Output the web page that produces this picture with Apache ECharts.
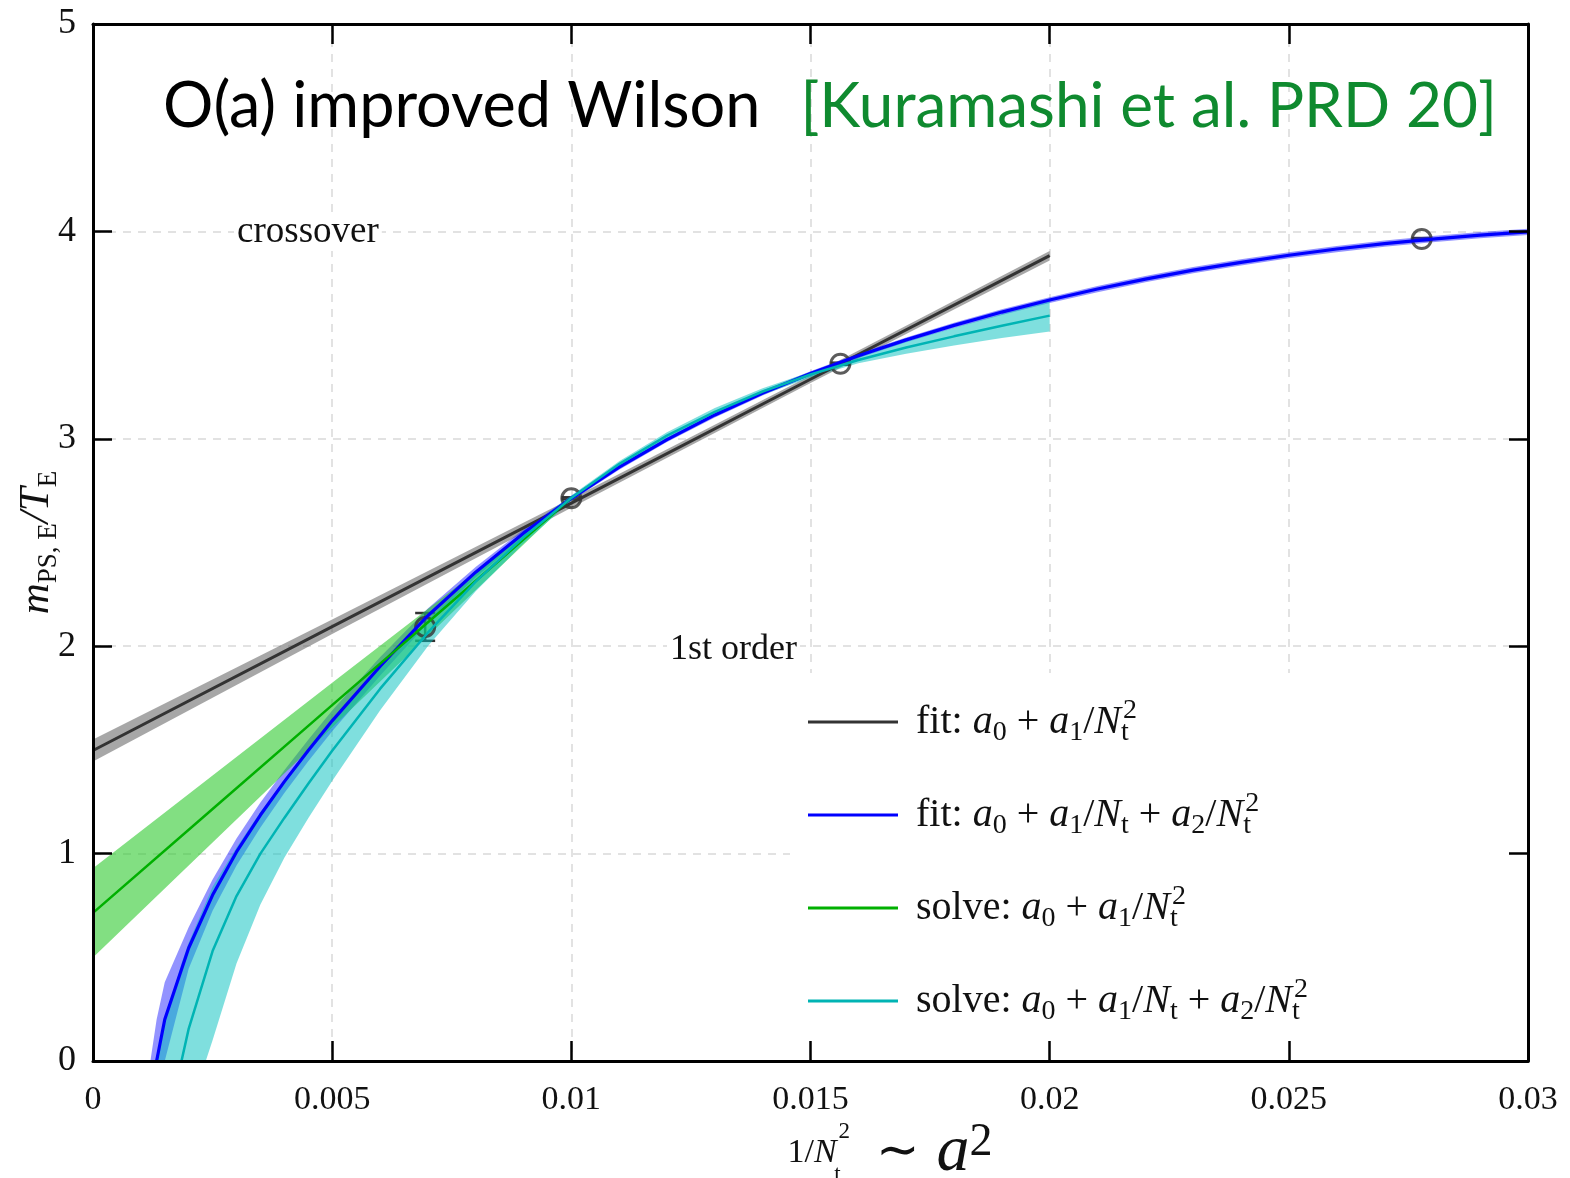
<!DOCTYPE html>
<html><head><meta charset="utf-8">
<script src="https://cdn.jsdelivr.net/npm/echarts@6/dist/echarts.min.js"></script>
<style>html,body{margin:0;padding:0;background:#fff}#c{width:1570px;height:1178px}</style>
</head><body><div id="c"></div>
<script>
// ---------------- data ----------------
const xTickLabels = ['0', '0.005', '0.01', '0.015', '0.02', '0.025', '0.03'];
const yTickLabels = ['0', '1', '2', '3', '4', '5'];

// lattice data points (1/Nt^2, m/T) with errors
const ptX   = [0.006944, 0.01, 0.015625, 0.027778];
const ptY   = [2.093, 2.713, 3.362, 3.963];
const ptErr = [0.067, 0.005, 0.005, 0.005];

// fit: a0 + a1/Nt^2 (black)
const fit1X  = [0, 0.005, 0.01, 0.015, 0.02];
const fit1Y  = [1.497, 2.094, 2.690, 3.287, 3.883];
const fit1Lo = [1.444, 2.059, 2.668, 3.269, 3.860];
const fit1Hi = [1.550, 2.129, 2.712, 3.305, 3.906];

// fit: a0 + a1/Nt + a2/Nt^2 (blue)
const fit2X = [0.00133, 0.0015, 0.002, 0.0025, 0.003, 0.0035, 0.004, 0.0045, 0.005, 0.006, 0.007, 0.008, 0.009, 0.010,
               0.011, 0.012, 0.013, 0.014, 0.015, 0.016, 0.017, 0.018, 0.019, 0.020, 0.021, 0.022, 0.023, 0.024, 0.025,
               0.026, 0.027, 0.028, 0.029, 0.030];
const fit2Y = [0, 0.20, 0.545, 0.80, 1.008, 1.186, 1.347, 1.497, 1.64, 1.902, 2.147, 2.357, 2.545, 2.713,
               2.863, 2.996, 3.115, 3.221, 3.315, 3.400, 3.477, 3.547, 3.611, 3.669, 3.722, 3.770, 3.813, 3.851, 3.885,
               3.915, 3.941, 3.963, 3.982, 3.998];
const fit2BandX = [0.0012, 0.00133, 0.0015, 0.002, 0.0025, 0.003, 0.0035, 0.004, 0.0045, 0.005, 0.006, 0.007, 0.008, 0.009, 0.010,
                   0.011, 0.012, 0.013, 0.014, 0.015, 0.016, 0.017, 0.018, 0.019, 0.020, 0.021, 0.022, 0.023, 0.024, 0.025,
                   0.026, 0.027, 0.028, 0.029, 0.030];
const fit2Lo = [-0.35, -0.2, 0.0, 0.445, 0.725, 0.943, 1.126, 1.292, 1.445, 1.59, 1.857, 2.112, 2.332, 2.527, 2.701,
                2.851, 2.984, 3.103, 3.209, 3.304, 3.389, 3.465, 3.534, 3.597, 3.655, 3.707, 3.755, 3.798, 3.836, 3.870,
                3.900, 3.926, 3.948, 3.967, 3.983];
const fit2Hi = [0.0, 0.2, 0.38, 0.645, 0.875, 1.073, 1.246, 1.402, 1.549, 1.69, 1.947, 2.182, 2.382, 2.563, 2.725,
                2.875, 3.008, 3.127, 3.233, 3.326, 3.411, 3.489, 3.560, 3.625, 3.683, 3.737, 3.785, 3.828, 3.866, 3.900,
                3.930, 3.956, 3.978, 3.997, 4.013];

// solve: a0 + a1/Nt^2 (green)
const sol1X  = [0, 0.0025, 0.005, 0.0075, 0.01];
const sol1Y  = [0.714, 1.215, 1.716, 2.214, 2.715];
const sol1Lo = [0.499, 1.054, 1.608, 2.160, 2.710];
const sol1Hi = [0.929, 1.376, 1.824, 2.268, 2.720];

// solve: a0 + a1/Nt + a2/Nt^2 (cyan)
const sol2X = [0.00185, 0.002, 0.0025, 0.003, 0.0035, 0.004, 0.0045, 0.005, 0.006, 0.007, 0.008, 0.009, 0.010,
               0.011, 0.012, 0.013, 0.014, 0.015, 0.016, 0.017, 0.018, 0.019, 0.020];
const sol2Y = [0, 0.155, 0.53, 0.795, 1.00, 1.172, 1.337, 1.496, 1.794, 2.065, 2.311, 2.525, 2.715,
               2.878, 3.015, 3.13, 3.228, 3.31, 3.38, 3.44, 3.494, 3.545, 3.594];
const sol2BandX = [0.0013, 0.0015, 0.00185, 0.002, 0.0025, 0.003, 0.0035, 0.004, 0.0045, 0.005, 0.006, 0.007, 0.008, 0.009, 0.010,
                   0.011, 0.012, 0.013, 0.014, 0.015, 0.016, 0.017, 0.018, 0.019, 0.020];
const sol2Lo = [-1.0, -0.8, -0.45, -0.25, 0.10, 0.47, 0.755, 0.98, 1.17, 1.35, 1.69, 2.00, 2.265, 2.495, 2.703,
                2.862, 2.996, 3.112, 3.212, 3.296, 3.364, 3.41, 3.45, 3.486, 3.517];
const sol2Hi = [0.0, 0.19, 0.47, 0.57, 0.84, 1.03, 1.20, 1.35, 1.49, 1.63, 1.89, 2.125, 2.35, 2.553, 2.727,
                2.892, 3.032, 3.148, 3.244, 3.322, 3.394, 3.47, 3.535, 3.602, 3.665];

// ---------------- chart ----------------
const SERIF = "'Liberation Serif', 'Times New Roman', serif";
const SANS = "Lato, 'Open Sans', sans-serif";
const zip = (xs, ys) => xs.map((x, i) => [x, ys[i]]);

function band(name, xs, lo, hi, fill) {
  return {
    type: 'custom', name, silent: true, data: [[xs[0], lo[0]]],
    renderItem: (params, api) => {
      const pts = [];
      for (let i = 0; i < xs.length; i++) pts.push(api.coord([xs[i], hi[i]]));
      for (let i = xs.length - 1; i >= 0; i--) pts.push(api.coord([xs[i], lo[i]]));
      const cs = params.coordSys;
      return { type: 'polygon', shape: { points: pts }, style: { fill },
               clipPath: { type: 'rect', shape: { x: cs.x, y: cs.y, width: cs.width, height: cs.height } } };
    }
  };
}
function line(name, xs, ys, color, width) {
  return { type: 'line', name, data: zip(xs, ys), showSymbol: false, smooth: false,
           lineStyle: { color, width }, itemStyle: { color }, silent: true, clip: true };
}

const sub = { fontFamily: SERIF, fontSize: 28, lineHeight: 36, verticalAlign: 'bottom', color: '#111' };
const legendRich = {
  i: { fontFamily: SERIF, fontSize: 40, fontStyle: 'italic', lineHeight: 50, color: '#111' },
  s: sub,
  st: Object.assign({}, sub, { width: 2 }),
  p: { fontFamily: SERIF, fontSize: 28, lineHeight: 30, verticalAlign: 'top', color: '#111' }
};
const legendText = {
  fit1: 'fit: {i|a}{s|0} + {i|a}{s|1}/{i|N}{st|t}{p|2}',
  fit2: 'fit: {i|a}{s|0} + {i|a}{s|1}/{i|N}{s|t} + {i|a}{s|2}/{i|N}{st|t}{p|2}',
  sol1: 'solve: {i|a}{s|0} + {i|a}{s|1}/{i|N}{st|t}{p|2}',
  sol2: 'solve: {i|a}{s|0} + {i|a}{s|1}/{i|N}{s|t} + {i|a}{s|2}/{i|N}{st|t}{p|2}'
};

const frameX = (pos, labels) => ({
  type: 'value', min: 0, max: 0.03, interval: 0.005, position: pos, z: 5,
  axisLine: { show: true, onZero: false, lineStyle: { color: '#000', width: 3 } },
  axisTick: { show: true, inside: true, length: 20, lineStyle: { color: '#000', width: 2.5 } },
  axisLabel: { show: labels, fontFamily: SERIF, fontSize: 34, color: '#111', margin: 22,
               formatter: (v) => xTickLabels[Math.round(v / 0.005)] },
  splitLine: { show: false }
});
const frameY = (pos, labels) => ({
  type: 'value', min: 0, max: 5, interval: 1, position: pos, z: 5,
  axisLine: { show: true, onZero: false, lineStyle: { color: '#000', width: 3 } },
  axisTick: { show: true, inside: true, length: 19, lineStyle: { color: '#000', width: 2.5 } },
  axisLabel: { show: labels, fontFamily: SERIF, fontSize: 36, color: '#111', margin: 17,
               formatter: (v) => yTickLabels[Math.round(v)] },
  splitLine: { show: false }
});
const gridLines = { show: true, lineStyle: { color: '#d9d9d9', width: 1.5, type: [8, 7] } };

// x-axis title (drawn as graphic text so its position is exact)
const xTitleRich = {
  r: { fontFamily: SERIF, fontSize: 34, lineHeight: 66, fill: '#111' },
  i: { fontFamily: SERIF, fontSize: 34, fontStyle: 'italic', lineHeight: 66, fill: '#111' },
  st: { fontFamily: SERIF, fontSize: 23, lineHeight: 44, verticalAlign: 'bottom', width: 2, fill: '#111' },
  p: { fontFamily: SERIF, fontSize: 23, lineHeight: 54, verticalAlign: 'top', fill: '#111' },
  w: { fontFamily: SERIF, fontSize: 52, lineHeight: 66, fill: '#111' },
  a: { fontFamily: SERIF, fontSize: 66, fontStyle: 'italic', lineHeight: 66, fill: '#111' },
  ap: { fontFamily: SERIF, fontSize: 46, lineHeight: 34, verticalAlign: 'top', fill: '#111' }
};

const yMain = frameY('left', true);
yMain.name = '{i|m}{s|PS, E}{i|/T}{s|E}';
yMain.nameLocation = 'middle';
yMain.nameRotate = 90;
yMain.nameMoveOverlap = false;
yMain.nameGap = 31;
yMain.nameTextStyle = { rich: {
  i: { fontFamily: SERIF, fontSize: 43, fontStyle: 'italic', lineHeight: 50, color: '#111' },
  s: { fontFamily: SERIF, fontSize: 27, lineHeight: 30, verticalAlign: 'bottom', color: '#111' }
} };

const option = {
  backgroundColor: '#fff',
  animation: false,
  title: {
    text: '{b|O(a) improved Wilson}{g|[Kuramashi et al. PRD 20]}',
    left: 158, top: 70,
    textStyle: { rich: {
      b: { fontFamily: SANS, fontSize: 63, fontWeight: 'normal', color: '#000' },
      g: { fontFamily: SANS, fontSize: 62, fontWeight: 'normal', color: '#0f8a2f', padding: [0, 0, 0, 40] }
    } }
  },
  grid: { left: 93, right: 42, top: 24, bottom: 117, containLabel: false, outerBoundsMode: 'none' },
  xAxis: [
    frameX('bottom', true),
    frameX('top', false),
    { type: 'value', min: 0, max: 0.03, interval: 0.005, position: 'bottom', z: 0,
      axisLine: { show: false }, axisTick: { show: false }, axisLabel: { show: false }, splitLine: gridLines }
  ],
  yAxis: [
    yMain,
    frameY('right', false),
    { type: 'value', min: 0, max: 5, interval: 1, position: 'left', z: 0,
      axisLine: { show: false }, axisTick: { show: false }, axisLabel: { show: false }, splitLine: gridLines }
  ],
  legend: {
    orient: 'vertical', left: 808, top: 697, padding: 0,
    itemWidth: 90, itemHeight: 3, itemGap: 43, icon: 'rect', selectedMode: false,
    data: ['fit1', 'fit2', 'sol1', 'sol2'],
    formatter: (n) => legendText[n],
    textStyle: { fontFamily: SERIF, fontSize: 40, lineHeight: 50, color: '#111', padding: [0, 0, 0, 13], rich: legendRich }
  },
  graphic: [
    { type: 'rect', z: 1, silent: true, shape: { x: 790, y: 673, width: 736, height: 386 }, style: { fill: '#fff' } },
    { type: 'text', z: 1, silent: true, x: 234, y: 214,
      style: { text: 'crossover', font: '37px ' + SERIF, fill: '#111', backgroundColor: '#fff', padding: [0, 3] } },
    { type: 'text', z: 1, silent: true, x: 667, y: 632,
      style: { text: '1st order', font: '36px ' + SERIF, fill: '#111', backgroundColor: '#fff', padding: [0, 3] } },
    { type: 'text', z: 5, silent: true, x: 890, y: 1153,
      style: { text: '{r|1/}{i|N}{st|t}{p|2}{r|   }{w|∼}{r|  }{a|a}{ap|2}', align: 'center', verticalAlign: 'middle',
               rich: xTitleRich } }
  ],
  series: [
    { type: 'scatter', name: 'data', data: zip(ptX, ptY), symbol: 'circle', symbolSize: 19, silent: true,
      itemStyle: { color: 'rgba(0,0,0,0)', borderColor: '#333', borderWidth: 3 } },
    { type: 'custom', name: 'err', silent: true,
      data: ptX.map((x, i) => [x, ptY[i] - ptErr[i], ptY[i] + ptErr[i]]),
      renderItem: (params, api) => {
        const p1 = api.coord([api.value(0), api.value(1)]);
        const p2 = api.coord([api.value(0), api.value(2)]);
        const w = 10, st = { stroke: '#333', lineWidth: 2.5 };
        return { type: 'group', children: [
          { type: 'line', shape: { x1: p1[0], y1: p1[1], x2: p2[0], y2: p2[1] }, style: st },
          { type: 'line', shape: { x1: p1[0] - w, y1: p1[1], x2: p1[0] + w, y2: p1[1] }, style: st },
          { type: 'line', shape: { x1: p2[0] - w, y1: p2[1], x2: p2[0] + w, y2: p2[1] }, style: st }
        ] };
      } },
    band('fit1band', fit1X, fit1Lo, fit1Hi, 'rgba(80,80,80,0.5)'),
    line('fit1', fit1X, fit1Y, '#333333', 3),
    band('fit2band', fit2BandX, fit2Lo, fit2Hi, 'rgba(40,40,255,0.5)'),
    line('fit2', fit2X, fit2Y, '#0000ff', 3.2),
    band('sol1band', sol1X, sol1Lo, sol1Hi, 'rgba(40,200,40,0.58)'),
    line('sol1', sol1X, sol1Y, '#00b000', 2.5),
    band('sol2band', sol2BandX, sol2Lo, sol2Hi, 'rgba(0,192,190,0.5)'),
    line('sol2', sol2X, sol2Y, '#00b4b4', 2.5)
  ]
};

const chart = echarts.init(document.getElementById('c'), null, { renderer: 'canvas' });
chart.setOption(option);
</script></body></html>
